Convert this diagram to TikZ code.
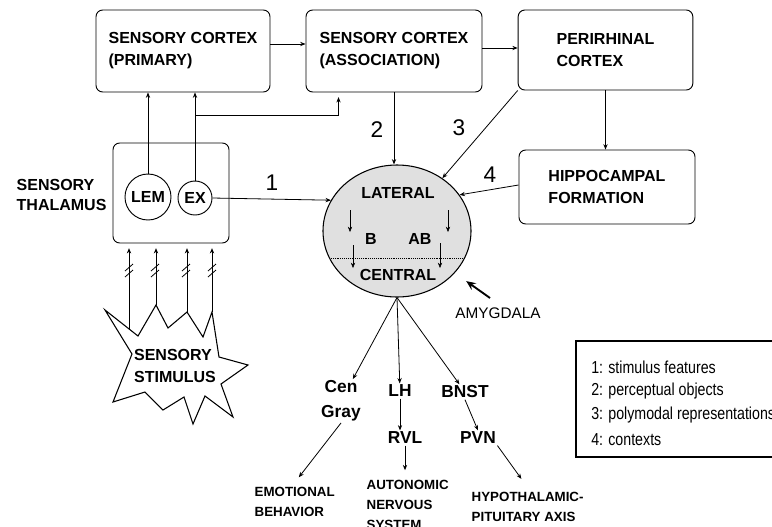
\documentclass[tikz,border=0pt]{standalone}
\usepackage{fontspec}
\setmainfont{Liberation Sans}
\newfontfamily\narrowfont[FakeStretch=0.82]{Liberation Sans}
\usetikzlibrary{arrows.meta, shapes.geometric, calc}

\tikzset{
  box/.style={draw, rounded corners=5pt, align=left, line width=0.7pt,
    font=\fontsize{12}{16.5}\selectfont\bfseries},
  nucl/.style={draw, circle, inner sep=0pt, line width=0.7pt,
    font=\fontsize{12}{14}\selectfont\bfseries},
  arr/.style={-{Stealth[length=4pt,width=3.2pt]}, line width=0.6pt},
  bigarr/.style={-{Stealth[length=7pt,width=6pt]}, line width=1.4pt},
  num/.style={font=\fontsize{17}{20}\selectfont},
  nuc/.style={font=\fontsize{12}{14}\selectfont\bfseries, inner sep=1pt},
  reg/.style={font=\fontsize{13}{18.75}\selectfont\bfseries, align=center, inner sep=1pt},
  outp/.style={font=\fontsize{10}{15}\selectfont\bfseries, align=left, anchor=west},
  leg/.style={font=\fontsize{13}{15}\selectfont\narrowfont, anchor=west, inner sep=0pt},
}

\begin{document}
\begin{tikzpicture}[x=0.75pt, y=-0.75pt]
  \clip (0,0) rectangle (772,526);

  % cortex, hippocampus
  \node[box, minimum width=130.5pt, minimum height=61.5pt] (prim)  at (183,51)   {SENSORY CORTEX\\(PRIMARY)};
  \node[box, minimum width=132pt,   minimum height=61.5pt] (assoc) at (394,51)   {SENSORY CORTEX\\(ASSOCIATION)};
  \node[box, minimum width=131pt,   minimum height=60pt]   (peri)  at (605.5,50) {PERIRHINAL\\CORTEX};
  \node[box, minimum width=132pt,   minimum height=55.5pt] (hippo) at (607,187)  {HIPPOCAMPAL\\FORMATION};

  % thalamus
  \node[box, minimum width=87pt, minimum height=75pt] (thal) at (171,193) {};
  \node[nucl, minimum size=34.5pt] (lem) at (148,197) {LEM};
  \node[nucl, minimum size=25.5pt] (ex)  at (195,198) {EX};
  \node[font=\fontsize{12}{15}\selectfont\bfseries, align=left, anchor=west] (thlbl) at (12,195) {SENSORY\\THALAMUS};

  % amygdala
  \node[draw, ellipse, fill=black!12, line width=0.8pt,
        minimum width=111pt, minimum height=99pt] (amyg) at (397,231) {};
  \draw[densely dotted] (331,258) -- (464,258);
  \node[nuc] (lat)  at (398,193) {LATERAL};
  \node[nuc] (bas)  at (371,239) {B};
  \node[nuc] (acb)  at (420,239) {AB};
  \node[nuc] (cent) at (398,275) {CENTRAL};
  \foreach \x/\ya/\yb in {350/210/232, 353/245/268, 448/210/232, 440/243/268}
    \draw[arr, line width=0.4pt] (\x,\ya) -- (\x,\yb);
  \node[font=\fontsize{11.5}{14}\selectfont] (amlbl) at (498,313) {AMYGDALA};
  \coordinate (amtail) at (490,298);
  \draw[bigarr, shorten >=10.5pt] (amtail) -- (amyg.-36);

  % stimulus
  \coordinate (s1) at (129,329);
  \coordinate (s2) at (156,305);
  \coordinate (s3) at (187,312);
  \coordinate (s4) at (212,312);
  \draw[line width=0.8pt] (105,310) -- (138,336) -- (s2) -- (168,328) -- (s3) -- (203,337) -- (s4)
    -- (219,357) -- (248,365) -- (221,384) -- (233,417) -- (205,396) -- (193,424) -- (184,397)
    -- (163,410) -- (145,392) -- (113,402) -- (132,354) -- cycle;
  \node[font=\fontsize{12}{16.5}\selectfont\bfseries, align=left] (stim) at (175,366) {SENSORY\\STIMULUS};
  \foreach \s in {s1,s2,s3,s4}
    \draw[arr, shorten >=3.5pt] (\s) -- (\s |- thal.south);
  \foreach \x in {129,155,186,212} {
    \draw[line width=0.6pt] (\x-4,271) -- (\x+4,264);
    \draw[line width=0.6pt] (\x-4,277) -- (\x+4,270);
  }

  % pathways into the amygdala
  \draw[arr] ([yshift=5.25pt]prim.east) -- ([yshift=5.25pt]assoc.west);
  \draw[arr] ([yshift=2.25pt]assoc.east) -- ([yshift=1.5pt]peri.west);
  \draw[arr] (lem.north) -- (lem.north |- prim.south);
  \draw[arr] (ex.north) -- (ex.north |- prim.south);
  \coordinate (split) at (195,115);
  \draw[arr, shorten >=3.5pt] (split) -| ([xshift=24.75pt]assoc.south west);
  \draw[arr] (ex.east) -- (amyg.155);
  \draw[arr] (assoc.south) -- (assoc.south |- amyg.north);
  \draw[arr] (peri.south west) -- (amyg);
  \draw[arr] (peri.south) -- (peri.south |- hippo.north);
  \draw[arr] ([yshift=1.5pt]hippo.west) -- (amyg.30);
  \node[num] (n1) at (272,183) {1};
  \node[num] (n2) at (377,130) {2};
  \node[num] (n3) at (459,128) {3};
  \node[num] (n4) at (490,175) {4};

  % outputs
  \node[reg] (cen)  at (341,401) {Cen\\Gray};
  \node[reg] (lh)   at (400,391) {LH};
  \node[reg] (bnst) at (465,392) {BNST};
  \node[reg] (rvl)  at (405,438) {RVL};
  \node[reg] (pvn)  at (478,438) {PVN};
  \node[outp] (emo)  at (250,502) {EMOTIONAL\\BEHAVIOR};
  \node[outp] (auto) at (362,505) {AUTONOMIC\\NERVOUS\\SYSTEM};
  \node[outp] (hypo) at (467,507) {HYPOTHALAMIC-\\PITUITARY AXIS};
  \draw[arr] (amyg.south) -- (cen);
  \draw[arr] (amyg.south) -- (lh);
  \draw[arr] (amyg.south) -- (bnst);
  \draw[arr] (lh.south) -- (lh.south |- rvl.north);
  \draw[arr] (bnst.south) -- (pvn.north);
  \draw[arr, shorten >=4pt] (rvl.south) -- (rvl.south |- auto.north);
  \draw[arr, shorten >=8pt] (pvn.south east) -- (hypo.north);
  \draw[arr, shorten >=5pt] (cen.south) -- (emo.north);

  % key
  \draw[line width=1.3pt] (576,341) rectangle (800,457);
  \node[leg] (k1) at (591,367) {1: stimulus features};
  \node[leg] (k2) at (591,391) {2: perceptual objects};
  \node[leg] (k3) at (591,415) {3: polymodal representations};
  \node[leg] (k4) at (591,440) {4: contexts};
\end{tikzpicture}
\end{document}
